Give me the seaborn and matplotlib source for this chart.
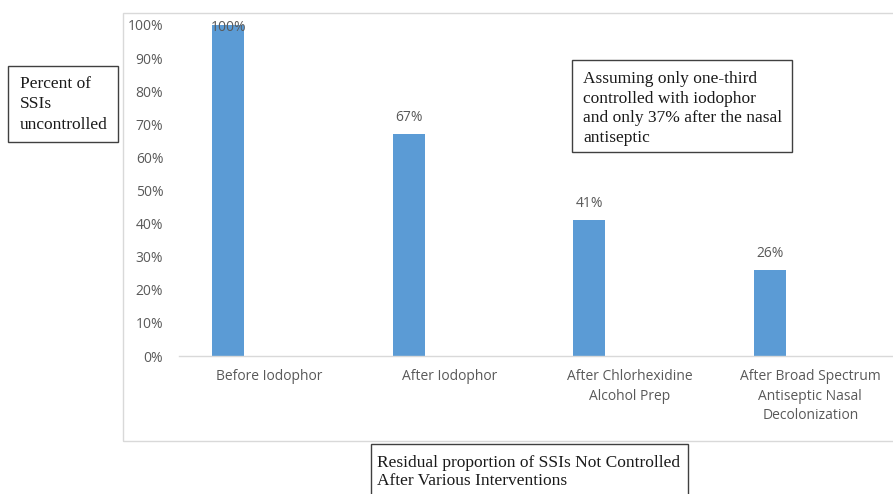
import numpy as np
import pandas as pd
import matplotlib
matplotlib.use("Agg")
import matplotlib.pyplot as plt
from matplotlib.patches import Rectangle
from matplotlib.ticker import PercentFormatter, FixedLocator
import seaborn as sns

# Residual share of SSIs not controlled after each intervention
categories = [
    "Before Iodophor",
    "After Iodophor",
    "After Chlorhexidine\nAlcohol Prep",
    "After Broad Spectrum\nAntiseptic Nasal\nDecolonization",
]
residual = [1.00, 0.67, 0.41, 0.26]
# second (empty) series keeps the Excel-style side-by-side slot
placeholder = [0.0, 0.0, 0.0, 0.0]
series_names = ["Residual", "Placeholder"]
value_labels = ["100%", "67%", "41%", "26%"]
y_ticks = [0.0, 0.1, 0.2, 0.3, 0.4, 0.5, 0.6, 0.7, 0.8, 0.9, 1.0]

sns.set_theme(style="white")
plt.rcParams["font.family"] = ["Open Sans", "DejaVu Sans"]

df = pd.DataFrame({
    "category": categories * 2,
    "value": residual + placeholder,
    "series": [series_names[0]] * 4 + [series_names[1]] * 4,
})

W, H = 893, 494
fig = plt.figure(figsize=(W / 100, H / 100), dpi=100)
fig.patch.set_facecolor("white")

# outer chart frame
frame = Rectangle((123 / W, 1 - 441 / H), 800 / W, (441 - 13) / H,
                  transform=fig.transFigure, fill=False,
                  edgecolor="#d9d9d9", linewidth=1.0)
fig.patches.append(frame)

ax = fig.add_axes([178.6 / W, 1 - 356 / H, 722 / W, (356 - 25) / H])
sns.barplot(data=df, x="category", y="value", hue="series",
            hue_order=series_names, order=categories,
            palette=["#5b9bd5", "#5b9bd5"], saturation=1,
            width=0.896, gap=0.605,
            linewidth=0, legend=False, ax=ax)

ax.set_xlim(-0.5, 3.5)
ax.set_ylim(0, 1.0)
ax.set_xlabel("")
ax.set_ylabel("")
ax.yaxis.set_major_locator(FixedLocator(y_ticks))
ax.yaxis.set_major_formatter(PercentFormatter(1.0, decimals=0))

for side in ["left", "top", "right"]:
    ax.spines[side].set_visible(False)
ax.spines["bottom"].set_color("#d9d9d9")
ax.spines["bottom"].set_linewidth(1.0)

ax.tick_params(axis="y", length=0, pad=11, labelsize=10, labelcolor="#595959")
ax.tick_params(axis="x", which="major", length=0, pad=9.5, labelsize=10,
               labelcolor="#595959")
ax.set_xticks([-0.5, 0.5, 1.5, 2.5, 3.5], minor=True)
ax.tick_params(axis="x", which="minor", length=4, width=0.8, color="#d9d9d9",
               direction="out")
for lab in ax.get_xticklabels():
    lab.set_linespacing(1.4)

# value labels above the bars
bars = ax.containers[0]
for rect, val, txt in zip(bars, residual, value_labels):
    cx = rect.get_x() + rect.get_width() / 2
    dy = -1.5 if val >= 1.0 else 12
    ax.annotate(txt, xy=(cx, val), xytext=(0, dy), textcoords="offset points",
                ha="center", va="center", fontsize=10, color="#595959",
                annotation_clip=False)

serif = ["Liberation Serif", "DejaVu Serif"]

# y-axis caption box
box1 = Rectangle((8 / W, 1 - 142 / H), 110 / W, 76 / H,
                 transform=fig.transFigure, fill=False,
                 edgecolor="#404040", linewidth=1.0)
fig.patches.append(box1)
fig.text(20 / W, 1 - 76 / H, "Percent of\nSSIs\nuncontrolled",
         family=serif, fontsize=12.5, color="#1a1a1a",
         ha="left", va="top", linespacing=1.36)

# assumption note box (text clipped just above its lower edge)
box2 = Rectangle((572 / W, 1 - 152 / H), 220 / W, 92 / H,
                 transform=fig.transFigure, fill=False,
                 edgecolor="#404040", linewidth=1.0)
fig.patches.append(box2)
clip2 = Rectangle((572 / W, 1 - 146 / H), 220 / W, 86 / H,
                  transform=fig.transFigure, fill=False, visible=False)
fig.patches.append(clip2)
note = fig.text(583 / W, 1 - 71 / H,
                "Assuming only one-third\ncontrolled with iodophor\n"
                "and only 37% after the nasal\nantiseptic",
                family=serif, fontsize=12.5, color="#1a1a1a",
                ha="left", va="top", linespacing=1.31)
note.set_clip_path(clip2)

# x-axis caption box
box3 = Rectangle((371 / W, 1 - 520 / H), 317 / W, 76 / H,
                 transform=fig.transFigure, fill=False,
                 edgecolor="#404040", linewidth=1.0)
fig.patches.append(box3)
fig.text(377 / W, 1 - 455 / H,
         "Residual proportion of SSIs Not Controlled\nAfter Various Interventions",
         family=serif, fontsize=12.5, color="#1a1a1a",
         ha="left", va="top", linespacing=1.15)

fig.savefig("out.png", dpi=100)
